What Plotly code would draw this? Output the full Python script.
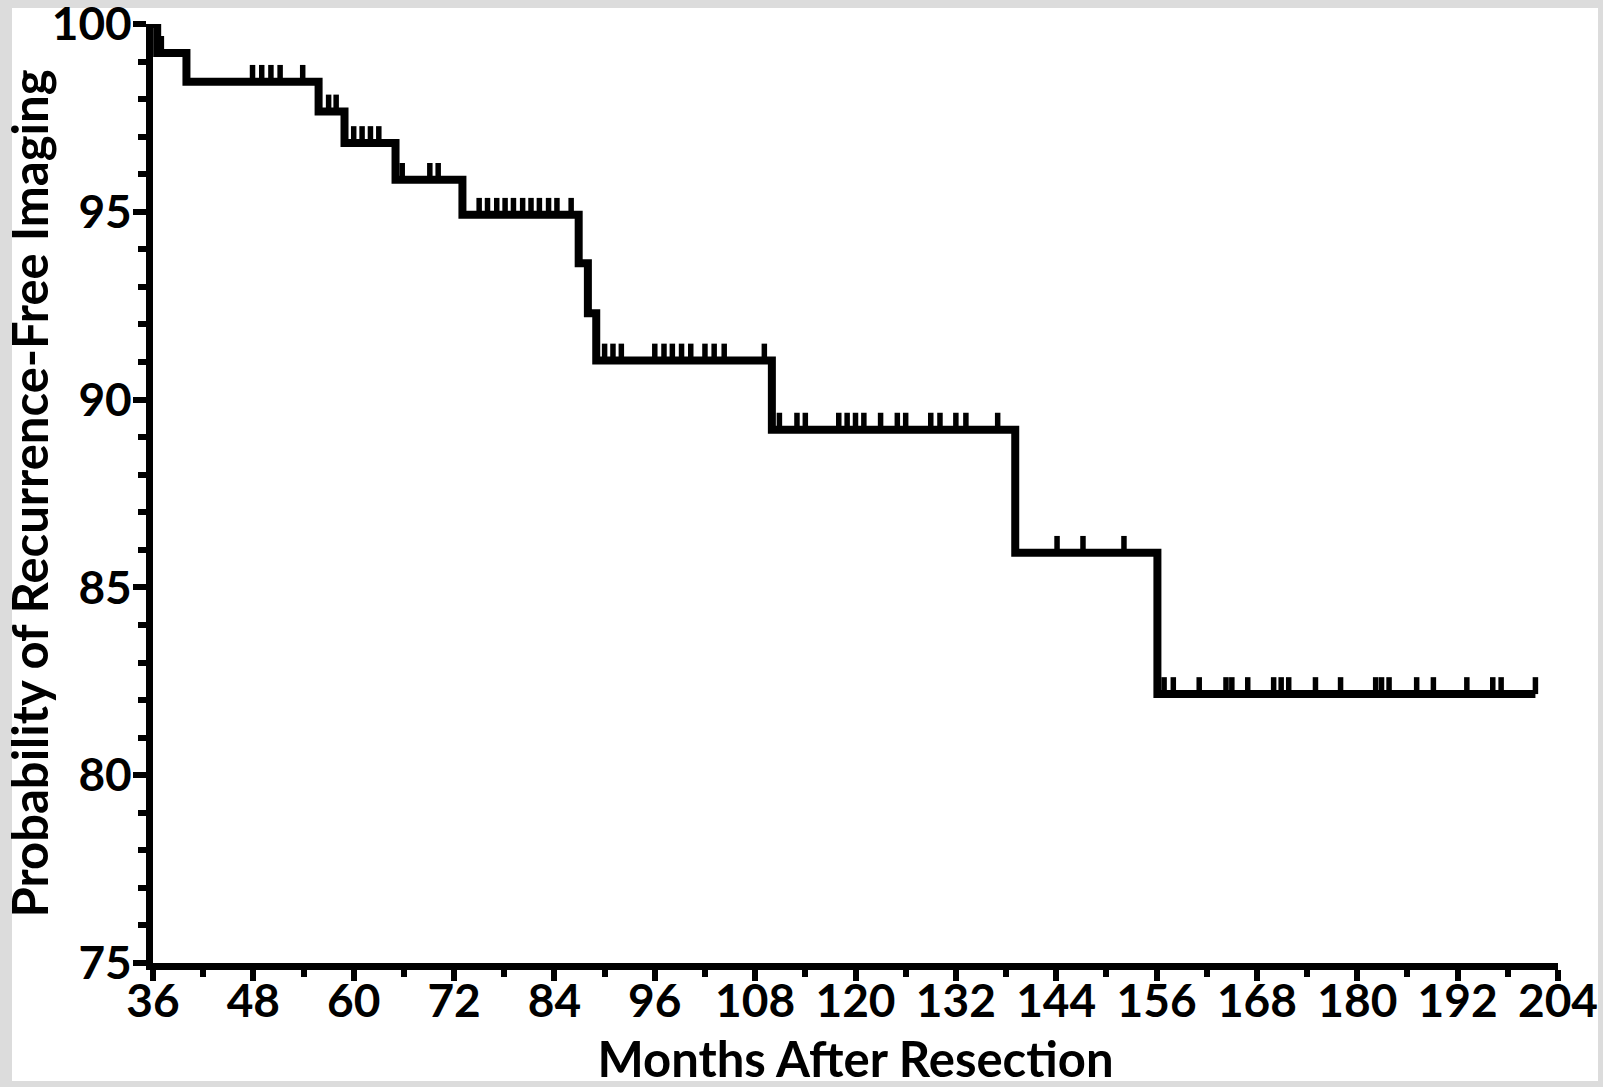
import numpy as np
import plotly.graph_objects as go

# ---- data ----
event_months = [36.0, 36.5, 40.0, 55.8, 58.9, 65.0, 73.0, 86.9, 88.0, 89.0,
                110.0, 139.1, 156.1, 201.3]
survival_pct = [100.0, 99.23, 98.46, 97.67, 96.83, 95.85, 94.92, 93.63, 92.30,
                91.04, 89.20, 85.92, 82.16, 82.16]
censor_months = [
    37.0,
    47.9, 49.0, 50.1, 51.2, 53.9,
    57.0, 57.9,
    60.0, 61.0, 62.0, 63.0,
    65.8, 69.1, 70.1,
    75.0, 76.0, 77.1, 78.1, 79.1, 80.2, 81.2, 82.2, 83.3, 84.3, 86.0,
    90.0, 91.0, 92.0, 96.0, 97.1, 98.1, 99.2, 100.3, 102.0, 103.1, 104.3, 109.1,
    110.9, 113.0, 114.0, 118.0, 119.0, 120.0, 121.0, 123.0, 125.0, 126.0,
    129.0, 130.1, 132.0, 133.2, 137.0,
    144.1, 147.2, 152.1,
    156.9, 158.0, 161.1, 164.3, 165.0, 166.9, 170.0, 170.9, 171.8, 175.0,
    178.0, 182.2, 182.9, 183.8, 187.1, 189.1, 193.1, 196.2, 197.2, 201.3,
]
x_tick_vals = [36, 48, 60, 72, 84, 96, 108, 120, 132, 144, 156, 168, 180, 192, 204]
y_tick_vals = [75, 80, 85, 90, 95, 100]
x_title = "Months After Resection"
y_title = "Probability of Recurrence-Free Imaging"

# ---- styles ----
TICK_LEN = 0.45          # censor mark height (data units)
FONT = "Lato"
W, H = 1603, 1087
ML, MR, MT, MB = 153, 45, 24, 124

# censor mark segments at the curve level
ev = np.array(event_months)
sv = np.array(survival_pct)
cx, cy = [], []
for t in censor_months:
    i = int(np.searchsorted(ev, t, side="right")) - 1
    lvl = sv[i]
    cx += [t, t, None]
    cy += [lvl, lvl + TICK_LEN, None]

fig = go.Figure()
fig.add_trace(go.Scatter(x=cx, y=cy, mode="lines",
                         line=dict(color="black", width=5.5),
                         hoverinfo="skip", showlegend=False))
fig.add_trace(go.Scatter(x=event_months, y=survival_pct, mode="lines",
                         line=dict(color="black", width=8, shape="hv"),
                         showlegend=False))

# white panel inside a light gray frame
pw, ph = W - ML - MR, H - MT - MB
def px2x(p):
    return (p - ML) / pw
def py2y(p):
    return (H - MB - p) / ph
fig.add_shape(type="rect", xref="paper", yref="paper",
              x0=px2x(12), x1=px2x(1598), y0=py2y(1081), y1=py2y(8),
              fillcolor="white", line=dict(width=0), layer="below")

axis_common = dict(
    showline=True, linecolor="black", linewidth=7,
    ticks="outside", tickcolor="black", tickwidth=6,
    showgrid=False, zeroline=False, ticklabeloverflow="allow",
)
fig.update_xaxes(range=[36, 204], tickvals=x_tick_vals, ticklen=11,
                 ticklabelstandoff=-19,
                 tickfont=dict(family=FONT, size=46, color="black", weight="bold"),
                 minor=dict(dtick=6, tick0=36, ticks="outside", ticklen=7,
                            tickwidth=6, tickcolor="black"),
                 title=dict(text=x_title, standoff=25,
                            font=dict(family=FONT, size=49, color="black", weight="bold")),
                 **axis_common)
fig.update_yaxes(range=[75, 100], tickvals=y_tick_vals, ticklen=13,
                 ticklabelstandoff=-8,
                 tickfont=dict(family=FONT, size=46, color="black", weight="bold"),
                 minor=dict(dtick=1, tick0=75, ticks="outside", ticklen=8,
                            tickwidth=6, tickcolor="black"),
                 title=dict(text=y_title, standoff=15,
                            font=dict(family=FONT, size=49, color="black", weight="bold")),
                 **axis_common)

fig.update_layout(width=W, height=H,
                  margin=dict(l=ML, r=MR, t=MT, b=MB, pad=0, autoexpand=False),
                  paper_bgcolor="#dcdcdc", plot_bgcolor="white",
                  showlegend=False)
fig.write_html("out.html")
